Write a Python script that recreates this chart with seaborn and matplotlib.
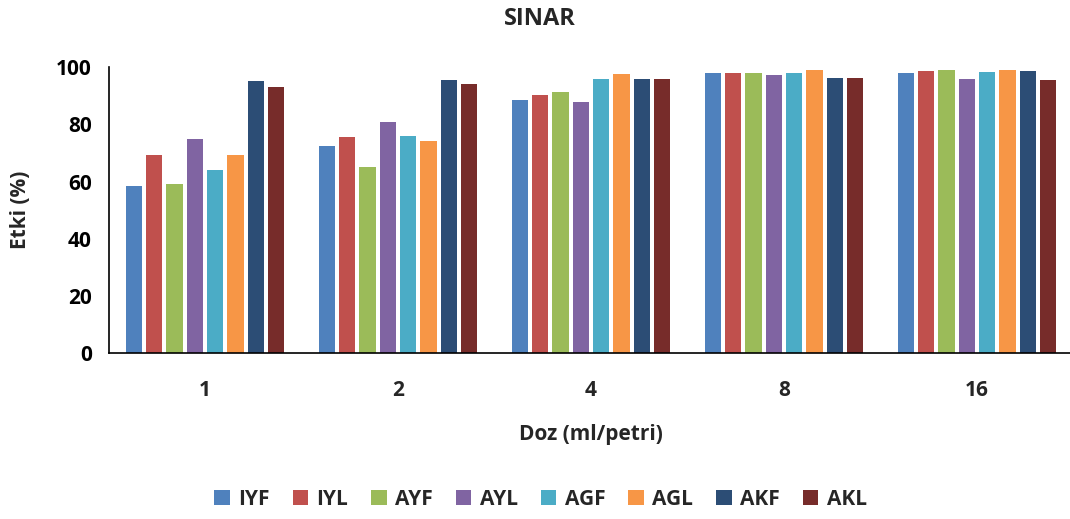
import matplotlib
matplotlib.use("Agg")
import matplotlib.pyplot as plt
import seaborn as sns
import pandas as pd

doses = ["1", "2", "4", "8", "16"]
series = ["IYF", "IYL", "AYF", "AYL", "AGF", "AGL", "AKF", "AKL"]
IYF = [58.4, 72.4, 88.6, 98.0, 98.0]
IYL = [69.5, 75.6, 90.3, 98.0, 98.8]
AYF = [59.3, 65.1, 91.5, 98.0, 99.2]
AYL = [74.8, 80.9, 87.9, 97.4, 96.0]
AGF = [64.2, 75.9, 96.0, 98.0, 98.5]
AGL = [69.5, 74.4, 97.6, 99.2, 99.2]
AKF = [95.1, 95.6, 96.0, 96.4, 98.6]
AKL = [93.0, 94.3, 96.0, 96.4, 95.6]
colors = ["#4F81BD", "#C0504D", "#9BBB59", "#8064A2", "#4BACC6",
          "#F79646", "#2C4D75", "#772C2A"]

values = dict(IYF=IYF, IYL=IYL, AYF=AYF, AYL=AYL, AGF=AGF, AGL=AGL, AKF=AKF, AKL=AKL)
rows = []
for s in series:
    for d, v in zip(doses, values[s]):
        rows.append({"Doz": d, "Seri": s, "Etki": v})
df = pd.DataFrame(rows)

sns.set_style("white")
plt.rcParams["font.family"] = ["Open Sans", "DejaVu Sans"]
plt.rcParams["font.weight"] = "bold"

fig = plt.figure(figsize=(10.70, 5.19), dpi=100)
ax = fig.add_axes([108.5 / 1070, 1 - 353.3 / 519, 965 / 1070, 286 / 519])

sns.barplot(data=df, x="Doz", y="Etki", hue="Seri", order=doses, hue_order=series,
            palette=colors, width=0.84, gap=0.2, linewidth=0, saturation=1,
            ax=ax, legend=True)

ax.set_xlim(-0.5, 4.5)
ax.set_ylim(0, 100)
ax.set_yticks([0, 20, 40, 60, 80, 100])
for sp in ["top", "right"]:
    ax.spines[sp].set_visible(False)
for sp in ["left", "bottom"]:
    ax.spines[sp].set_color("black")
    ax.spines[sp].set_linewidth(1.2)
ax.tick_params(axis="y", direction="out", length=6, width=1.2, colors="black",
               labelsize=15, pad=6)
ax.tick_params(axis="x", length=0, labelsize=15, pad=19)
for lbl in ax.get_xticklabels() + ax.get_yticklabels():
    lbl.set_fontweight("bold")

ax.set_xlabel("Doz (ml/petri)", fontsize=15, fontweight="bold", labelpad=17)
ax.set_ylabel("Etki (%)", fontsize=15, fontweight="bold", labelpad=18)
fig.text(0.505, 0.963, "SINAR", ha="center", va="center", fontsize=17, fontweight="bold")

ax.legend_.remove()
handles, labels = ax.get_legend_handles_labels()
leg = fig.legend(handles, labels, loc="center", bbox_to_anchor=(0.505, 0.038), ncol=8,
                 frameon=False, prop={"size": 15, "weight": "bold"},
                 handlelength=0.75, handleheight=0.75, handletextpad=0.4, columnspacing=1.1)

fig.savefig("out.png", dpi=100)
